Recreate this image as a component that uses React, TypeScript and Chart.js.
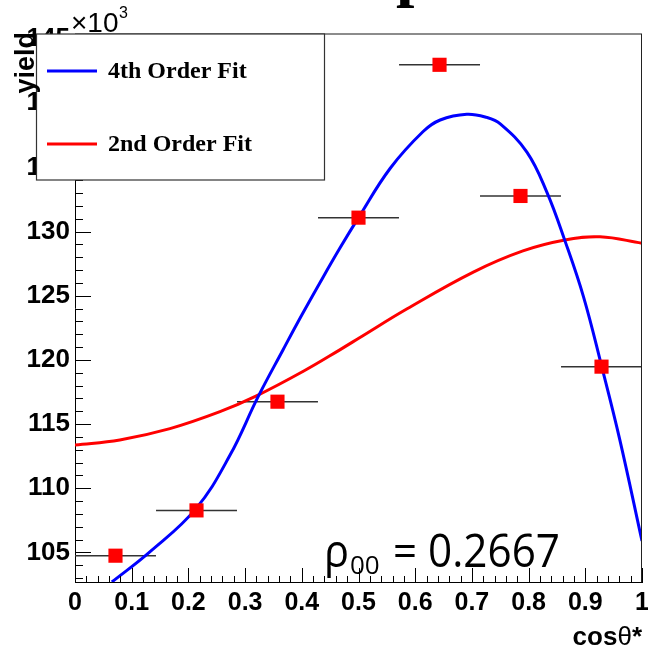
import React, { useEffect, useRef } from 'react';
import { Chart, registerables } from 'chart.js';

Chart.register(...registerables);

// ---- data ----
const binCenters = [0.0714, 0.2143, 0.3571, 0.5, 0.6429, 0.7857, 0.9286];
const yieldValues = [104.75, 108.28, 116.75, 131.09, 143.0, 132.78, 119.48];
const binHalfWidth = 0.0714;

const fit4X = [0.065, 0.132, 0.213, 0.273, 0.323, 0.367, 0.4, 0.433, 0.467, 0.5, 0.556, 0.614, 0.644, 0.691, 0.726, 0.75, 0.797, 0.832, 0.864, 0.897, 0.929, 0.961, 1.0];
const fit4Y = [102.7, 105.05, 108.4, 112.55, 117.14, 120.8, 123.5, 126.1, 128.7, 131.09, 134.94, 137.8, 138.7, 139.15, 138.9, 138.4, 136.2, 133.1, 129.3, 124.9, 119.48, 113.76, 105.9];

const fit2X = [0.0, 0.079, 0.1675, 0.2557, 0.32, 0.4027, 0.467, 0.5026, 0.585, 0.7025, 0.79, 0.864, 0.926, 1.0];
const fit2Y = [113.37, 113.77, 114.65, 115.97, 117.2, 119.12, 120.79, 121.75, 123.97, 126.85, 128.5, 129.35, 129.6, 129.1];

const xTickValues = [0, 0.1, 0.2, 0.3, 0.4, 0.5, 0.6, 0.7, 0.8, 0.9, 1];
const yTickValues = [105, 110, 115, 120, 125, 130, 135, 140, 145];
const legendLabels = ['4th Order Fit', '2nd Order Fit'];
const legendColors = ['#0000ff', '#ff0000'];
const rhoValue = '0.2667';

const Y_MIN = 102.7;
const Y_MAX = 145.4;

const SANS = '"Liberation Sans", Arial, sans-serif';
const SERIF = '"Liberation Serif", "Times New Roman", serif';
const OPEN = '"Open Sans", "DejaVu Sans", sans-serif';

const decor = {
  id: 'decor',
  beforeDatasetsDraw(chart: any) {
    const { ctx, scales } = chart;
    const x = scales.x;
    const y = scales.y;
    ctx.save();
    ctx.strokeStyle = '#333';
    ctx.lineWidth = 1.5;
    binCenters.forEach((c, i) => {
      const py = y.getPixelForValue(yieldValues[i]);
      ctx.beginPath();
      ctx.moveTo(x.getPixelForValue(c - binHalfWidth), py);
      ctx.lineTo(x.getPixelForValue(c + binHalfWidth), py);
      ctx.stroke();
    });
    ctx.restore();
  },
  afterDraw(chart: any) {
    const { ctx, scales, chartArea } = chart;
    const x = scales.x;
    const y = scales.y;
    const { left, right, top, bottom } = chartArea;
    ctx.save();

    // inward ticks
    ctx.strokeStyle = '#000';
    ctx.lineWidth = 1;
    for (let v = Math.ceil(Y_MIN); v <= Y_MAX; v++) {
      const py = Math.round(y.getPixelForValue(v)) + 0.5;
      const len = v % 5 === 0 ? 16 : 8;
      ctx.beginPath();
      ctx.moveTo(left, py);
      ctx.lineTo(left + len, py);
      ctx.stroke();
    }
    for (let k = 0; k <= 50; k++) {
      const px = Math.round(x.getPixelForValue(k / 50)) + 0.5;
      const len = k % 5 === 0 ? 14 : 6;
      ctx.beginPath();
      ctx.moveTo(px, bottom);
      ctx.lineTo(px, bottom - len);
      ctx.stroke();
    }

    // frame top and right
    ctx.strokeStyle = '#666';
    ctx.lineWidth = 1.5;
    ctx.beginPath();
    ctx.moveTo(left, top);
    ctx.lineTo(right, top);
    ctx.stroke();
    ctx.strokeStyle = '#222';
    ctx.lineWidth = 1;
    ctx.beginPath();
    ctx.moveTo(right - 0.5, top);
    ctx.lineTo(right - 0.5, bottom);
    ctx.stroke();

    // legend box
    ctx.fillStyle = '#fff';
    ctx.fillRect(36, 34, 288, 146);
    ctx.strokeStyle = '#333';
    ctx.lineWidth = 1.2;
    ctx.strokeRect(36.5, 34, 288, 146);
    const rows = [71, 144];
    rows.forEach((ry, i) => {
      ctx.strokeStyle = legendColors[i];
      ctx.lineWidth = 3;
      ctx.beginPath();
      ctx.moveTo(47, ry);
      ctx.lineTo(97, ry);
      ctx.stroke();
      ctx.fillStyle = '#000';
      ctx.font = `bold 24px ${SERIF}`;
      ctx.textAlign = 'left';
      ctx.textBaseline = 'middle';
      ctx.fillText(legendLabels[i], 108, ry + 1);
    });

    // y axis title
    ctx.save();
    ctx.translate(34, 32);
    ctx.rotate(-Math.PI / 2);
    ctx.font = `bold 27px ${SANS}`;
    ctx.fillStyle = '#000';
    ctx.textAlign = 'right';
    ctx.textBaseline = 'alphabetic';
    ctx.fillText('yield', 0, 0);
    ctx.restore();

    // x10^3
    ctx.fillStyle = '#000';
    ctx.textAlign = 'left';
    ctx.textBaseline = 'alphabetic';
    ctx.font = `28px ${SANS}`;
    ctx.fillText('\u00d710', 71, 32);
    ctx.font = `16px ${SANS}`;
    ctx.fillText('3', 119, 18);

    // x axis title cos(theta)*
    const parts = [
      { t: 'cos', f: `bold 26px ${SANS}` },
      { t: '\u03b8', f: `26px ${SANS}` },
      { t: '*', f: `bold 26px ${SANS}` },
    ];
    let total = 0;
    parts.forEach((p) => {
      ctx.font = p.f;
      total += ctx.measureText(p.t).width;
    });
    let cx = 642 - total;
    parts.forEach((p) => {
      ctx.font = p.f;
      ctx.fillText(p.t, cx, 645);
      cx += ctx.measureText(p.t).width;
    });

    // rho_00 annotation
    ctx.font = `46px ${OPEN}`;
    ctx.fillText('\u03c1', 324, 567, 25);
    ctx.font = `26px ${OPEN}`;
    ctx.fillText('00', 350, 574, 32);
    ctx.font = `46px ${OPEN}`;
    ctx.fillText('=', 393, 567, 24);
    ctx.fillText(rhoValue, 428, 567, 132);

    // cut-off title glyph at the very top
    ctx.font = `bold 66px ${SERIF}`;
    ctx.fillText('p', 396, -6);

    ctx.restore();
  },
};

export default function App() {
  const ref = useRef<HTMLCanvasElement | null>(null);

  useEffect(() => {
    const canvas = ref.current;
    if (!canvas) return;
    Chart.defaults.font.family = SANS;
    const chart = new Chart(canvas, {
      type: 'scatter',
      data: {
        datasets: [
          {
            label: 'data',
            data: binCenters.map((c, i) => ({ x: c, y: yieldValues[i] })),
            backgroundColor: '#ff0000',
            borderColor: '#ff0000',
            borderWidth: 0,
            pointStyle: 'rect',
            pointRadius: 10,
            showLine: false,
          },
          {
            label: legendLabels[0],
            type: 'line',
            data: fit4X.map((v, i) => ({ x: v, y: fit4Y[i] })),
            borderColor: legendColors[0],
            borderWidth: 3,
            pointRadius: 0,
            fill: false,
            tension: 0.4,
          },
          {
            label: legendLabels[1],
            type: 'line',
            data: fit2X.map((v, i) => ({ x: v, y: fit2Y[i] })),
            borderColor: legendColors[1],
            borderWidth: 3,
            pointRadius: 0,
            fill: false,
            tension: 0.4,
          },
        ],
      } as any,
      options: {
        animation: false,
        responsive: false,
        devicePixelRatio: 1,
        layout: { autoPadding: false, padding: { top: 34, right: 6, left: 0, bottom: 0 } },
        plugins: {
          legend: { display: false },
          tooltip: { enabled: false },
          title: { display: false },
        },
        scales: {
          x: {
            type: 'linear',
            min: 0,
            max: 1,
            afterFit: (s: any) => {
              s.height = 72;
              s.paddingLeft = 0;
              s.paddingRight = 0;
            },
            afterBuildTicks: (s: any) => {
              s.ticks = xTickValues.map((v) => ({ value: v }));
            },
            grid: { display: false, drawTicks: false },
            border: { display: true, color: '#000', width: 1 },
            ticks: {
              padding: 6,
              autoSkip: false,
              maxRotation: 0,
              color: '#000',
              font: { size: 25, weight: 'bold', family: SANS },
              callback: (v: any) => {
                const n = Number(v);
                if (Math.abs(n) < 1e-9) return '0';
                if (Math.abs(n - 1) < 1e-9) return '1';
                return n.toFixed(1);
              },
            },
          },
          y: {
            type: 'linear',
            min: Y_MIN,
            max: Y_MAX,
            afterFit: (s: any) => {
              s.width = 75;
              s.paddingTop = 0;
              s.paddingBottom = 0;
            },
            afterBuildTicks: (s: any) => {
              s.ticks = yTickValues.map((v) => ({ value: v }));
            },
            grid: { display: false, drawTicks: false },
            border: { display: true, color: '#000', width: 1 },
            ticks: {
              padding: 5,
              autoSkip: false,
              color: '#000',
              font: { size: 26, weight: 'bold', family: SANS },
              callback: (v: any) => String(Math.round(Number(v))),
            },
          },
        },
      } as any,
      plugins: [decor],
    });
    return () => chart.destroy();
  }, []);

  return (
    <div style={{ position: 'absolute', left: 0, top: 0, width: 648, height: 654, background: '#fff' }}>
      <canvas ref={ref} width={648} height={654} style={{ display: 'block', width: 648, height: 654 }} />
    </div>
  );
}
